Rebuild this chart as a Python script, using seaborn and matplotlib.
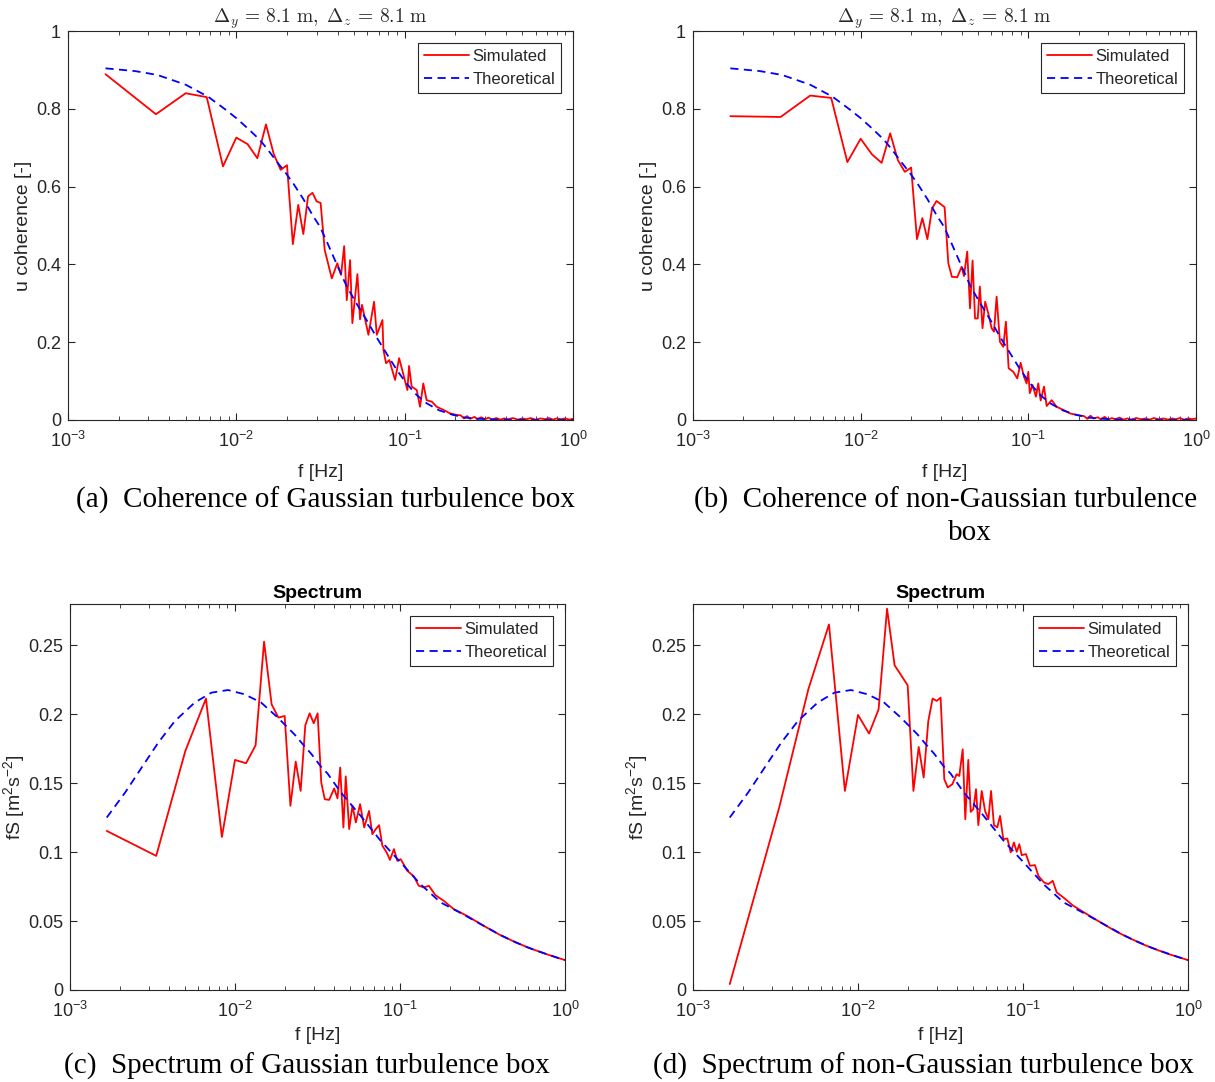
import numpy as np
import matplotlib
matplotlib.use("Agg")
import matplotlib.pyplot as plt
import seaborn as sns
from matplotlib.ticker import LogLocator, NullFormatter, FuncFormatter

sns.set_style("ticks")
plt.rcParams['font.family'] = ['Liberation Sans', 'DejaVu Sans']
plt.rcParams['mathtext.fontset'] = 'custom'
plt.rcParams['mathtext.rm'] = 'Liberation Sans'
plt.rcParams['mathtext.it'] = 'Liberation Sans:italic'
plt.rcParams['mathtext.bf'] = 'Liberation Sans:bold'

# ---------------- data ----------------
# coherence, Gaussian box
F_COH_A = [0.00167, 0.00333, 0.00500, 0.00667, 0.00833, 0.01000, 0.01167, 0.01333, 0.01500, 0.01667,
           0.01833, 0.02000, 0.02167, 0.02333, 0.02500, 0.02667, 0.02833, 0.03000, 0.03167, 0.03350,
           0.0369, 0.0398, 0.0419, 0.0437, 0.0453, 0.0474, 0.0489, 0.0524, 0.0543, 0.0558,
           0.0609, 0.0658, 0.0683, 0.0738, 0.0748, 0.0775, 0.0811, 0.0877, 0.0927, 0.0991,
           0.1038, 0.1062, 0.1100, 0.1180, 0.1234, 0.1290, 0.1350, 0.1450, 0.1550, 0.1700,
           0.1860, 0.2040]
V_COH_A = [0.889, 0.786, 0.840, 0.830, 0.652, 0.726, 0.709, 0.673, 0.760, 0.684,
           0.643, 0.655, 0.452, 0.553, 0.478, 0.575, 0.584, 0.562, 0.558, 0.437,
           0.364, 0.403, 0.373, 0.447, 0.308, 0.411, 0.249, 0.375, 0.259, 0.296,
           0.219, 0.304, 0.219, 0.257, 0.180, 0.146, 0.154, 0.103, 0.159, 0.111,
           0.077, 0.139, 0.086, 0.077, 0.034, 0.094, 0.051, 0.047, 0.034, 0.026,
           0.017, 0.013]

# coherence, non-Gaussian box
F_COH_B = [0.00167, 0.00333, 0.00500, 0.00667, 0.00833, 0.01000, 0.01167, 0.01333, 0.01500, 0.01667,
           0.01833, 0.02000, 0.02167, 0.02333, 0.02500, 0.02667, 0.02833, 0.03000, 0.03167, 0.03333,
           0.0350, 0.0377, 0.0400, 0.0413, 0.0432, 0.0449, 0.0465, 0.0481, 0.0499, 0.0514,
           0.0533, 0.0553, 0.0577, 0.0604, 0.0624, 0.0647, 0.0677, 0.0709, 0.0735, 0.0763,
           0.0813, 0.0859, 0.0900, 0.0942, 0.0977, 0.1000, 0.1020, 0.1060, 0.1110, 0.1146,
           0.1185, 0.1240, 0.1286, 0.1377, 0.1475, 0.1616, 0.1770, 0.1940]
V_COH_B = [0.781, 0.779, 0.834, 0.828, 0.663, 0.723, 0.683, 0.661, 0.737, 0.668,
           0.638, 0.649, 0.465, 0.519, 0.465, 0.544, 0.563, 0.555, 0.547, 0.403,
           0.368, 0.367, 0.394, 0.370, 0.433, 0.287, 0.410, 0.261, 0.261, 0.343,
           0.236, 0.304, 0.274, 0.236, 0.227, 0.317, 0.201, 0.188, 0.253, 0.133,
           0.124, 0.107, 0.147, 0.111, 0.094, 0.124, 0.069, 0.090, 0.060, 0.094,
           0.050, 0.086, 0.036, 0.051, 0.034, 0.026, 0.017, 0.013]

# high-frequency tail of the simulated coherence (noise around zero)
F_TAIL = [0.215, 0.225, 0.235, 0.245, 0.26, 0.27, 0.285, 0.30, 0.315, 0.33,
          0.35, 0.37, 0.39, 0.41, 0.44, 0.47, 0.50, 0.53, 0.56, 0.60,
          0.64, 0.68, 0.72, 0.76, 0.80, 0.85, 0.90, 0.95, 1.0]
V_TAIL_A = [0.012, 0.004, 0.010, 0.003, 0.008, 0.002, 0.007, 0.002, 0.006, 0.001,
            0.005, 0.001, 0.004, 0.002, 0.005, 0.001, 0.004, 0.002, 0.005, 0.001,
            0.004, 0.002, 0.005, 0.001, 0.004, 0.002, 0.004, 0.001, 0.003]
V_TAIL_B = [0.010, 0.003, 0.011, 0.004, 0.007, 0.002, 0.008, 0.001, 0.005, 0.002,
            0.006, 0.001, 0.004, 0.001, 0.005, 0.002, 0.004, 0.001, 0.005, 0.002,
            0.004, 0.001, 0.004, 0.002, 0.005, 0.001, 0.004, 0.002, 0.004]

# theoretical coherence
F_COH_TH = [0.00167, 0.0025, 0.0034, 0.0050, 0.0068, 0.0085, 0.0100, 0.0118, 0.0138, 0.0155,
            0.0174, 0.0195, 0.0218, 0.0250, 0.0285, 0.0314, 0.0350, 0.0400, 0.0453, 0.0520,
            0.0594, 0.0680, 0.0780, 0.0900, 0.1025, 0.1180, 0.1350, 0.1600, 0.1940, 0.2300,
            0.2800, 0.3500, 0.4500, 0.6000, 0.8000, 1.0000]
V_COH_TH = [0.904, 0.897, 0.887, 0.862, 0.831, 0.800, 0.776, 0.748, 0.720, 0.693,
            0.664, 0.637, 0.608, 0.568, 0.525, 0.497, 0.452, 0.395, 0.343, 0.298,
            0.257, 0.213, 0.171, 0.128, 0.094, 0.064, 0.043, 0.025, 0.013, 0.006,
            0.003, 0.001, 0.0003, 0.0, 0.0, 0.0]

# spectrum, Gaussian box
F_SPEC_C = [0.00167, 0.00333, 0.00500, 0.00667, 0.00833, 0.01000, 0.01167, 0.01333, 0.01500, 0.01667,
            0.01833, 0.02000, 0.02167, 0.02333, 0.02500, 0.02667, 0.02833, 0.03000, 0.03167, 0.03333,
            0.0350, 0.0372, 0.0399, 0.0418, 0.0434, 0.0454, 0.0469, 0.0492, 0.0515, 0.0540,
            0.0573, 0.0607, 0.0649, 0.0680, 0.0713, 0.0747, 0.0782, 0.0830, 0.0869, 0.0919,
            0.0964, 0.1010, 0.1107, 0.1213, 0.1300, 0.1394, 0.1495, 0.1640, 0.1840, 0.2115,
            0.2547, 0.3209, 0.4046, 0.5000, 0.6000, 0.7000, 0.8000, 0.9000, 1.0000]
V_SPEC_C = [0.1154, 0.0973, 0.1734, 0.2114, 0.1110, 0.1669, 0.1645, 0.1775, 0.2527, 0.2072,
            0.1976, 0.1988, 0.1336, 0.1657, 0.1444, 0.1920, 0.2007, 0.1935, 0.2007, 0.1505,
            0.1384, 0.1379, 0.1462, 0.1390, 0.1614, 0.1179, 0.1549, 0.1167, 0.1336, 0.1215,
            0.1348, 0.1179, 0.1299, 0.1130, 0.1167, 0.1196, 0.1046, 0.0998, 0.0944, 0.1022,
            0.0937, 0.0949, 0.0865, 0.0824, 0.0756, 0.0744, 0.0756, 0.0688, 0.0647, 0.0587,
            0.0538, 0.0466, 0.0399, 0.0347, 0.0307, 0.0278, 0.0254, 0.0234, 0.0217]

# spectrum, non-Gaussian box
F_SPEC_D = [0.00167, 0.00333, 0.00500, 0.00667, 0.00833, 0.01000, 0.01167, 0.01333, 0.01500, 0.01667,
            0.01833, 0.02000, 0.02167, 0.02333, 0.02500, 0.02667, 0.02833, 0.03000, 0.03167, 0.03333,
            0.0350, 0.0373, 0.0396, 0.0411, 0.0431, 0.0447, 0.0466, 0.0482, 0.0500, 0.0519,
            0.0536, 0.0562, 0.0589, 0.0617, 0.0640, 0.0667, 0.0698, 0.0726, 0.0760, 0.0804,
            0.0842, 0.0881, 0.0916, 0.0950, 0.0982, 0.1042, 0.1102, 0.1182, 0.1239, 0.1340,
            0.1424, 0.1514, 0.1600, 0.1754, 0.2017, 0.2432, 0.3069, 0.3700, 0.4500, 0.5500,
            0.6500, 0.7500, 0.8500, 1.0000]
V_SPEC_D = [0.0043, 0.1324, 0.2181, 0.2652, 0.1444, 0.1995, 0.1860, 0.2036, 0.2766, 0.2355,
            0.2280, 0.2210, 0.1444, 0.1763, 0.1541, 0.1951, 0.2114, 0.2097, 0.2121, 0.1529,
            0.1469, 0.1493, 0.1565, 0.1553, 0.1746, 0.1239, 0.1669, 0.1292, 0.1312, 0.1457,
            0.1196, 0.1444, 0.1299, 0.1239, 0.1444, 0.1196, 0.1179, 0.1263, 0.1094, 0.1099,
            0.0998, 0.1070, 0.1002, 0.1058, 0.0978, 0.0986, 0.0901, 0.0906, 0.0828, 0.0780,
            0.0768, 0.0792, 0.0708, 0.0672, 0.0611, 0.0551, 0.0478, 0.0422, 0.0372, 0.0325,
            0.0291, 0.0264, 0.0243, 0.0217]

# theoretical spectrum
F_SPEC_TH = [0.00167, 0.00216, 0.00272, 0.00343, 0.00432, 0.0057, 0.0072, 0.00907, 0.01143, 0.0144,
             0.01817, 0.0229, 0.0263, 0.0289, 0.0332, 0.0364, 0.0438, 0.0578, 0.0764, 0.1009,
             0.133, 0.1758, 0.232, 0.306, 0.405, 0.5, 0.6, 0.7, 0.8, 0.9, 1.0]
V_SPEC_TH = [0.1251, 0.1433, 0.1614, 0.1795, 0.1951, 0.2085, 0.2157, 0.2176, 0.2145, 0.2085,
             0.1976, 0.1855, 0.1770, 0.1715, 0.1620, 0.1570, 0.1433, 0.1263, 0.1082, 0.0925,
             0.0768, 0.0636, 0.0560, 0.0480, 0.0399, 0.0347, 0.0307, 0.0278, 0.0254, 0.0234, 0.0217]

COH_TICKS = [0, 0.2, 0.4, 0.6, 0.8, 1]
SPEC_TICKS = [0, 0.05, 0.1, 0.15, 0.2, 0.25]
COH_TITLE = r'$\Delta_y\,=\,8.1\ \mathrm{m},\ \Delta_z\,=\,8.1\ \mathrm{m}$'
CAPTIONS = ["(a)  Coherence of Gaussian turbulence box",
            "(b)  Coherence of non-Gaussian turbulence",
            "(c)  Spectrum of Gaussian turbulence box",
            "(d)  Spectrum of non-Gaussian turbulence box"]

W, H = 1215, 1082
fig = plt.figure(figsize=(W / 100, H / 100), dpi=100)


def px_axes(left, right, top, bottom):
    return fig.add_axes([left / W, 1 - bottom / H, (right - left) / W, (bottom - top) / H])


ax_a = px_axes(68, 573, 31, 420)
ax_b = px_axes(693, 1196, 31, 420)
ax_c = px_axes(70, 565, 604, 990)
ax_d = px_axes(693, 1188, 604, 990)

DASH = (0, (4.5, 3.0))


def draw(ax, f_sim, v_sim, f_th, v_th):
    sns.lineplot(x=f_sim, y=v_sim, ax=ax, color='#ff0000', linewidth=1.3,
                 label='Simulated', estimator=None, sort=False)
    sns.lineplot(x=f_th, y=v_th, ax=ax, color='#0000ff', linewidth=1.3,
                 linestyle=DASH, label='Theoretical', estimator=None, sort=False)


def style(ax, ylim, yticks, xpad):
    ax.set_xscale('log')
    ax.set_xlim(1e-3, 1)
    ax.set_ylim(*ylim)
    ax.set_yticks(yticks)
    ax.yaxis.set_major_formatter(FuncFormatter(lambda v, p: f"{v:g}"))
    ax.xaxis.set_major_locator(LogLocator(base=10, numticks=10))
    ax.xaxis.set_minor_locator(LogLocator(base=10, subs=np.arange(2, 10), numticks=10))
    ax.xaxis.set_minor_formatter(NullFormatter())
    ax.tick_params(which='both', direction='in', top=True, right=True,
                   colors='#262626', labelsize=13)
    ax.tick_params(which='major', length=5, width=0.8, pad=5)
    ax.tick_params(axis='x', which='major', pad=8)
    ax.tick_params(which='minor', length=3, width=0.6)
    for s in ax.spines.values():
        s.set_color('#262626')
        s.set_linewidth(0.8)
    ax.set_xlabel('f [Hz]', fontsize=14, color='#262626', labelpad=xpad)
    leg = ax.legend(loc='upper right', fontsize=12, frameon=True, fancybox=False,
                    edgecolor='#262626', framealpha=1, handlelength=2.75,
                    borderaxespad=0.7, labelspacing=0.5, borderpad=0.35,
                    handletextpad=0.2)
    leg.get_frame().set_linewidth(0.8)


draw(ax_a, F_COH_A + F_TAIL, V_COH_A + V_TAIL_A, F_COH_TH, V_COH_TH)
draw(ax_b, F_COH_B + F_TAIL, V_COH_B + V_TAIL_B, F_COH_TH, V_COH_TH)
draw(ax_c, F_SPEC_C, V_SPEC_C, F_SPEC_TH, V_SPEC_TH)
draw(ax_d, F_SPEC_D, V_SPEC_D, F_SPEC_TH, V_SPEC_TH)

for ax in (ax_a, ax_b):
    style(ax, (0, 1), COH_TICKS, 9)
    ax.set_ylabel('u coherence [-]', fontsize=14, color='#262626', labelpad=3)
    ax.set_title(COH_TITLE, math_fontfamily='cm', fontsize=14, color='#262626', pad=4)

for ax in (ax_c, ax_d):
    style(ax, (0, 0.28), SPEC_TICKS, 4)
    ax.set_ylabel(r'fS [m$^2$s$^{-2}$]', fontsize=14, color='#262626', labelpad=1)
    ax.set_title('Spectrum', fontsize=14, fontweight='bold', color='black', pad=4)

# sub-figure captions
cap = dict(family=['Liberation Serif', 'DejaVu Serif'], fontsize=21, color='black',
           ha='center', va='center')
fig.text(325 / W, 1 - 500 / H, CAPTIONS[0], **cap)
fig.text(946 / W, 1 - 500 / H, CAPTIONS[1], **cap)
fig.text(970 / W, 1 - 533 / H, "box", **cap)
fig.text(307 / W, 1 - 1066 / H, CAPTIONS[2], **cap)
fig.text(923 / W, 1 - 1066 / H, CAPTIONS[3], **cap)

fig.savefig('out.png', dpi=100)
